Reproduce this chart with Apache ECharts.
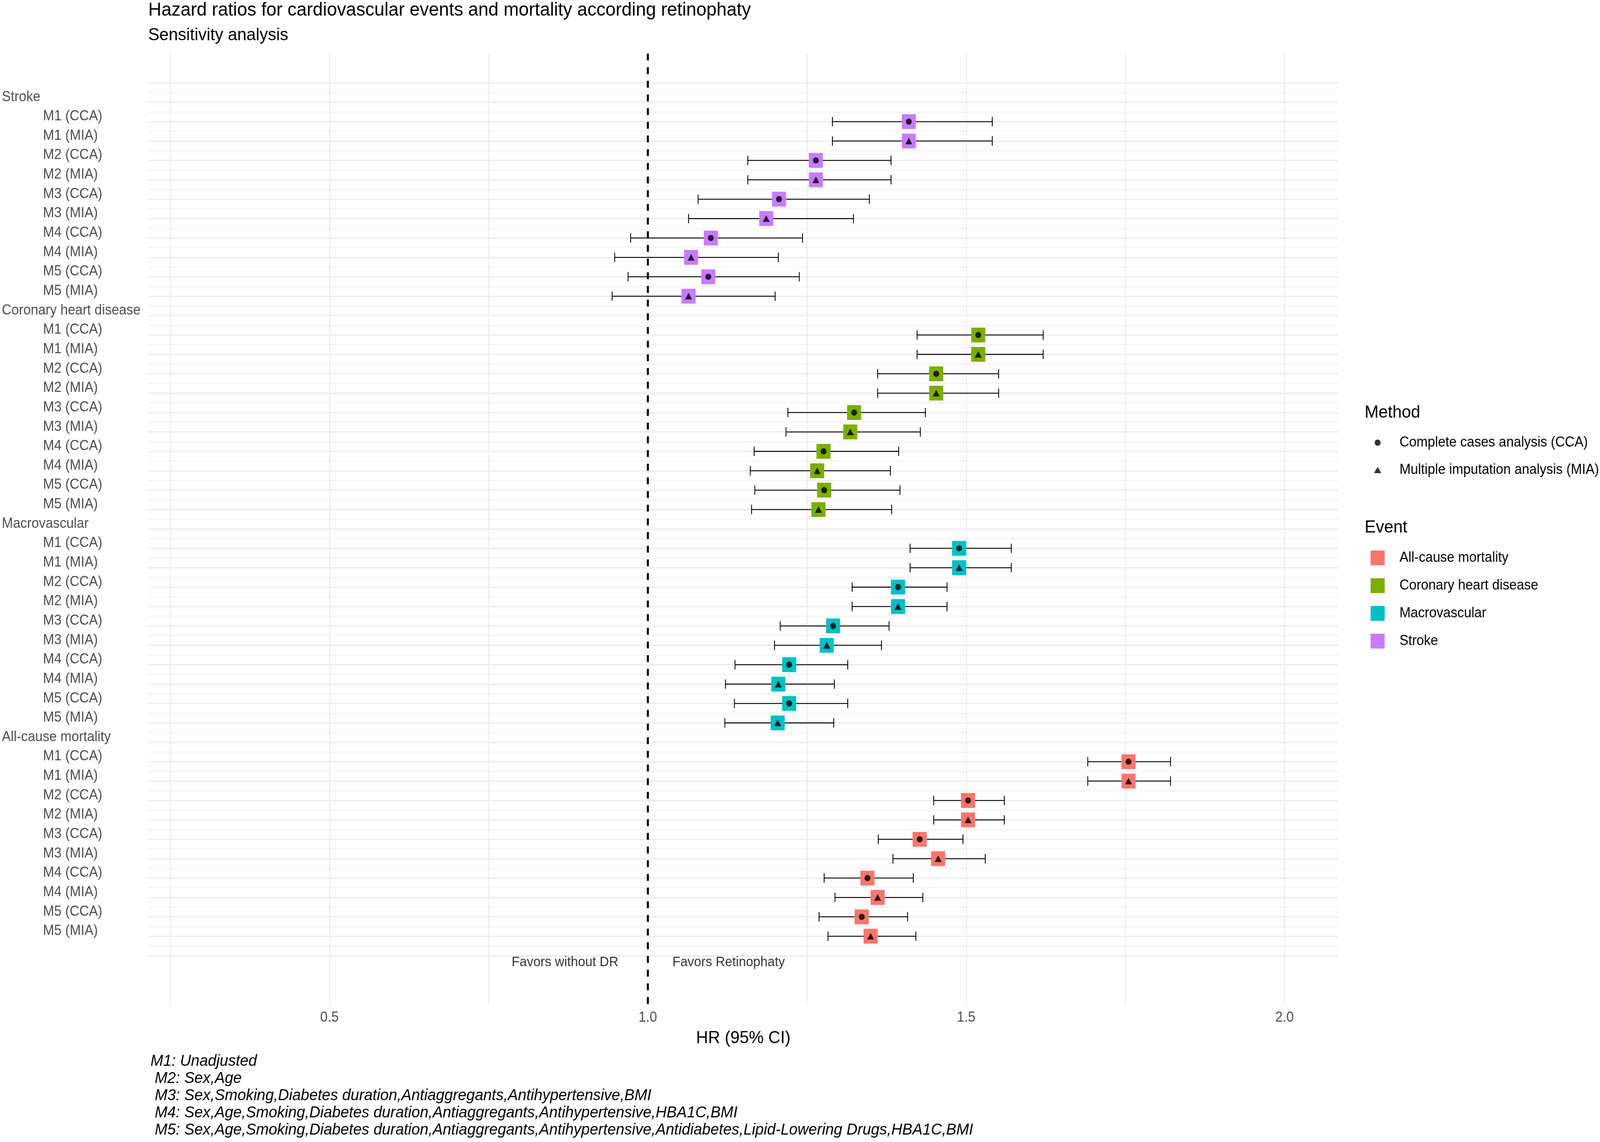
<!DOCTYPE html>
<html>
<head>
<meta charset="utf-8">
<title>Hazard ratios - sensitivity analysis</title>
<script src="https://cdn.jsdelivr.net/npm/echarts@6/dist/echarts.min.js"></script>
<style>
  html, body { margin: 0; padding: 0; background: #fff; overflow: hidden; }
  #chart { width: 4317px; height: 2923px; transform-origin: 0 0; }
</style>
</head>
<body>
<div id="chart"></div>
<script>
const FONT = '"Liberation Sans", Arial, Helvetica, sans-serif'

// blocks from top to bottom, and the rows inside each block
const events = ['Stroke', 'Coronary heart disease', 'Macrovascular', 'All-cause mortality']
const models = ['M1 (CCA)', 'M1 (MIA)', 'M2 (CCA)', 'M2 (MIA)', 'M3 (CCA)', 'M3 (MIA)', 'M4 (CCA)', 'M4 (MIA)', 'M5 (CCA)', 'M5 (MIA)']
const legendEvents = ['All-cause mortality', 'Coronary heart disease', 'Macrovascular', 'Stroke']
const methodNames = ['Complete cases analysis (CCA)', 'Multiple imputation analysis (MIA)']

// hazard ratios with 95% CI, one value per model row
const strokeHR   = [1.410, 1.410, 1.264, 1.264, 1.206, 1.186, 1.099, 1.068, 1.095, 1.064]
const strokeLow  = [1.290, 1.290, 1.157, 1.157, 1.079, 1.064, 0.973, 0.948, 0.969, 0.944]
const strokeHigh = [1.541, 1.541, 1.382, 1.382, 1.348, 1.323, 1.243, 1.205, 1.238, 1.200]

const chdHR   = [1.519, 1.519, 1.453, 1.453, 1.324, 1.318, 1.276, 1.266, 1.277, 1.268]
const chdLow  = [1.423, 1.423, 1.361, 1.361, 1.220, 1.217, 1.167, 1.161, 1.168, 1.163]
const chdHigh = [1.621, 1.621, 1.551, 1.551, 1.436, 1.428, 1.394, 1.381, 1.396, 1.383]

const macroHR   = [1.489, 1.489, 1.393, 1.393, 1.291, 1.281, 1.222, 1.205, 1.222, 1.204]
const macroLow  = [1.412, 1.412, 1.321, 1.321, 1.208, 1.199, 1.137, 1.122, 1.136, 1.121]
const macroHigh = [1.571, 1.571, 1.470, 1.470, 1.379, 1.367, 1.314, 1.293, 1.314, 1.292]

const mortHR   = [1.755, 1.755, 1.503, 1.503, 1.427, 1.456, 1.345, 1.361, 1.336, 1.350]
const mortLow  = [1.691, 1.691, 1.449, 1.449, 1.362, 1.385, 1.277, 1.294, 1.269, 1.283]
const mortHigh = [1.821, 1.821, 1.560, 1.560, 1.495, 1.530, 1.417, 1.432, 1.408, 1.421]

const xGridTicks = [0.25, 0.5, 0.75, 1, 1.25, 1.5, 1.75, 2]
const xTickLabels = [0.5, 1, 1.5, 2]
const favorsText = ['Favors without DR', 'Favors Retinophaty']
const footnotes = [
  'M1: Unadjusted',
  ' M2: Sex,Age',
  ' M3: Sex,Smoking,Diabetes duration,Antiaggregants,Antihypertensive,BMI',
  ' M4: Sex,Age,Smoking,Diabetes duration,Antiaggregants,Antihypertensive,HBA1C,BMI',
  ' M5: Sex,Age,Smoking,Diabetes duration,Antiaggregants,Antihypertensive,Antidiabetes,Lipid-Lowering Drugs,HBA1C,BMI'
]

const eventColors = {
  'All-cause mortality': '#F8766D',
  'Coronary heart disease': '#7CAE00',
  'Macrovascular': '#00BFC4',
  'Stroke': '#C77CFF'
}

const eventValues = {
  'Stroke': [strokeHR, strokeLow, strokeHigh],
  'Coronary heart disease': [chdHR, chdLow, chdHigh],
  'Macrovascular': [macroHR, macroLow, macroHigh],
  'All-cause mortality': [mortHR, mortLow, mortHigh]
}

// one blank row above and below, a header row per event
const rowLabels = ['']
const points = []
events.forEach(ev => {
  rowLabels.push(ev)
  const [hr, lo, hi] = eventValues[ev]
  models.forEach((m, i) => {
    points.push({ event: ev, cca: m.includes('CCA'), hr: hr[i], lo: lo[i], hi: hi[i], row: rowLabels.length })
    rowLabels.push(m)
  })
})
rowLabels.push('')

const X_MIN = 0.216
const X_MAX = 2.084
const GRID_LEFT = 401
const GRID_RIGHT = 707
// the panel reaches 1.5 rows above the first row and ~2.56 below the last one
const rowPx = (2446 - 212) / (rowLabels.length - 1)

// the chart is laid out on a 4317x2923 page; fit it to whatever the viewport is
const el = document.getElementById('chart')
const sx = (document.documentElement.clientWidth || 4317) / 4317
const sy = (window.innerHeight || 2923) / 2923
if (Math.abs(sx - 1) > 0.002 || Math.abs(sy - 1) > 0.002) {
  el.style.transform = 'scale(' + sx + ',' + sy + ')'
}

const chart = echarts.init(el)

const squareSeries = legendEvents.map(ev => ({
  name: ev,
  type: 'scatter',
  xAxisIndex: 1,
  yAxisIndex: 1,
  symbol: 'rect',
  symbolSize: 38,
  itemStyle: { color: eventColors[ev], opacity: 1 },
  z: 4,
  silent: true,
  data: points.filter(p => p.event === ev).map(p => [p.hr, p.row])
}))

const option = {
  backgroundColor: '#fff',
  animation: false,
  textStyle: { fontFamily: FONT },
  title: [
    {
      text: 'Hazard ratios for cardiovascular events and mortality according retinophaty',
      left: 400, top: 2, padding: 0,
      textStyle: { fontFamily: FONT, fontSize: 49, lineHeight: 49, fontWeight: 'normal', color: '#000' }
    },
    {
      text: 'Sensitivity analysis',
      left: 400, top: 68, padding: 0,
      textStyle: { fontFamily: FONT, fontSize: 45, lineHeight: 45, fontWeight: 'normal', color: '#000' }
    },
    {
      text: 'Method',
      left: 3682, top: 1034, padding: 0,
      textStyle: { fontFamily: FONT, fontSize: 45, lineHeight: 45, fontWeight: 'normal', color: '#000' }
    },
    {
      text: 'Event',
      left: 3682, top: 1328, padding: 0,
      textStyle: { fontFamily: FONT, fontSize: 45, lineHeight: 45, fontWeight: 'normal', color: '#000' }
    }
  ],
  legend: [
    {
      orient: 'vertical',
      left: 3707, top: 1115, padding: 0,
      itemWidth: 20, itemHeight: 16, itemGap: 34,
      data: [
        { name: methodNames[0], icon: 'circle' },
        { name: methodNames[1], icon: 'triangle' }
      ],
      textStyle: { fontFamily: FONT, fontSize: 36, lineHeight: 36, color: '#000', padding: [0, 0, 0, 44] },
      selectedMode: false
    },
    {
      orient: 'vertical',
      left: 3698, top: 1409, padding: 0,
      itemWidth: 38, itemHeight: 38, itemGap: 33,
      data: legendEvents.map(ev => ({ name: ev, icon: 'rect' })),
      textStyle: { fontFamily: FONT, fontSize: 36, lineHeight: 36, color: '#000', padding: [0, 0, 0, 35] },
      selectedMode: false
    }
  ],
  grid: [
    // full panel: vertical grid lines, x labels, reference line, annotations
    { left: GRID_LEFT, right: GRID_RIGHT, top: 137, bottom: 2923 - 2573, containLabel: false },
    // rows: horizontal grid lines and the estimates
    { left: GRID_LEFT, right: GRID_RIGHT, top: 212, bottom: 2923 - 2446, containLabel: false }
  ],
  xAxis: [
    {
      gridIndex: 0, type: 'value', min: X_MIN, max: X_MAX,
      axisLine: { show: false },
      axisTick: { show: false, customValues: xGridTicks },
      axisLabel: {
        customValues: xTickLabels,
        formatter: v => v.toFixed(1),
        fontFamily: FONT, fontSize: 36, lineHeight: 36, color: '#4D4D4D', margin: 14
      },
      splitLine: { show: true, lineStyle: { color: '#EBEBEB', width: 2.5 } },
      name: 'HR (95% CI)',
      nameLocation: 'middle',
      nameGap: 62,
      nameTextStyle: { fontFamily: FONT, fontSize: 45, lineHeight: 45, color: '#000' }
    },
    {
      gridIndex: 1, type: 'value', min: X_MIN, max: X_MAX, show: false,
      splitLine: { show: false }
    }
  ],
  yAxis: [
    {
      gridIndex: 0, type: 'value', inverse: true, show: false,
      min: -(212 - 137) / rowPx,
      max: (2573 - 212) / rowPx,
      splitLine: { show: false }
    },
    {
      gridIndex: 1, type: 'value', inverse: true,
      min: 0, max: rowLabels.length - 1, interval: 1,
      axisLine: { show: false },
      axisTick: { show: false },
      minorTick: { show: false, splitNumber: 2 },
      splitLine: { show: true, lineStyle: { color: '#EBEBEB', width: 3.3 } },
      minorSplitLine: { show: true, lineStyle: { color: '#EEEEEE', width: 2 } },
      axisLabel: {
        align: 'left',
        margin: GRID_LEFT - 5,
        padding: [0, 0, 26, 0],
        showMinLabel: true,
        showMaxLabel: true,
        color: '#4D4D4D',
        fontFamily: FONT,
        fontSize: 36,
        formatter: v => {
          const label = rowLabels[Math.round(v)] || ''
          if (!label) return ''
          return events.includes(label) ? '{h|' + label + '}' : '{m|' + label + '}'
        },
        rich: {
          h: { fontFamily: FONT, fontSize: 36, color: '#4D4D4D' },
          m: { fontFamily: FONT, fontSize: 36, color: '#4D4D4D', padding: [0, 0, 0, 111] }
        }
      }
    }
  ],
  series: [
    {
      name: 'reference',
      type: 'scatter',
      xAxisIndex: 0, yAxisIndex: 0,
      data: [],
      silent: true,
      markLine: {
        silent: true,
        symbol: 'none',
        label: { show: false },
        lineStyle: { color: '#000', width: 5.5, type: [17.5, 17.5] },
        data: [{ xAxis: 1 }]
      },
      z: 2
    },
    {
      name: 'favors',
      type: 'scatter',
      xAxisIndex: 0, yAxisIndex: 0,
      symbolSize: 0,
      silent: true,
      data: [
        { name: favorsText[0], value: [0.870, 45.35] },
        { name: favorsText[1], value: [1.127, 45.35] }
      ],
      label: {
        show: true, position: 'inside', formatter: '{b}',
        fontFamily: FONT, fontSize: 35, color: '#000'
      },
      z: 2
    },
    {
      name: 'ci',
      type: 'custom',
      xAxisIndex: 1, yAxisIndex: 1,
      silent: true,
      z: 3,
      data: points.map(p => [p.lo, p.hi, p.row]),
      encode: { x: [0, 1], y: 2 },
      renderItem: (params, api) => {
        const row = api.value(2)
        const a = api.coord([api.value(0), row])
        const b = api.coord([api.value(1), row])
        const cap = 12
        const style = { stroke: '#000', lineWidth: 2.3 }
        return {
          type: 'group',
          children: [
            { type: 'line', shape: { x1: a[0], y1: a[1], x2: b[0], y2: b[1] }, style },
            { type: 'line', shape: { x1: a[0], y1: a[1] - cap, x2: a[0], y2: a[1] + cap }, style },
            { type: 'line', shape: { x1: b[0], y1: b[1] - cap, x2: b[0], y2: b[1] + cap }, style }
          ]
        }
      }
    },
    ...squareSeries,
    {
      name: methodNames[0],
      type: 'scatter',
      xAxisIndex: 1, yAxisIndex: 1,
      symbol: 'circle',
      symbolSize: 16,
      itemStyle: { color: '#000' },
      silent: true,
      z: 5,
      data: points.filter(p => p.cca).map(p => [p.hr, p.row])
    },
    {
      name: methodNames[1],
      type: 'scatter',
      xAxisIndex: 1, yAxisIndex: 1,
      symbol: 'triangle',
      symbolSize: [19, 17],
      itemStyle: { color: '#000' },
      silent: true,
      z: 5,
      data: points.filter(p => !p.cca).map(p => [p.hr, p.row])
    }
  ],
  graphic: [
    {
      type: 'text',
      left: 406,
      top: 2695,
      silent: true,
      style: {
        text: footnotes.join('\n'),
        font: 'italic 41px ' + FONT,
        lineHeight: 44,
        fill: '#000'
      }
    }
  ]
}

chart.setOption(option)
</script>
</body>
</html>
